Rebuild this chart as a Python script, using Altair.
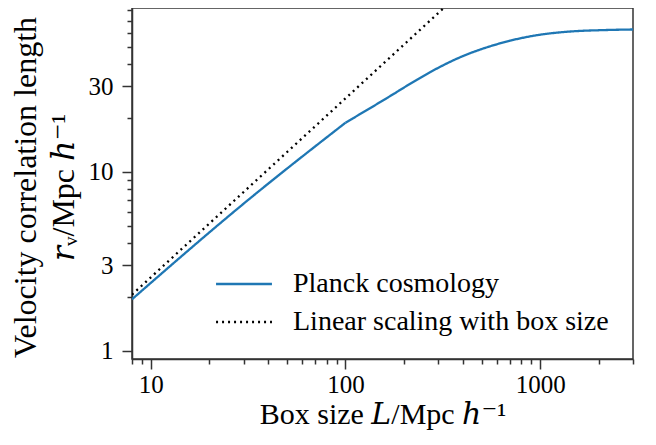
import altair as alt
import pandas as pd

# Planck cosmology curve; the slope changes at L = 100
planck_L = [8, 32, 100, 163, 233, 273, 405, 555, 700, 966, 1432, 2124, 3000]
planck_r = [1.94, 7.04, 18.8, 25.8, 32.7, 36.1, 44.5, 50.3, 54.0, 58.0, 60.8, 61.9, 62.4]
planck_seg = ["a", "a", "a", "b", "b", "b", "b", "b", "b", "b", "b", "b", "b"]

# Linear scaling with box size (end points)
linear_L = [8, 350]
linear_r = [2.06, 90]

series_names = ["Planck cosmology", "Linear scaling with box size"]
series_colors = ["#1f77b4", "#000000"]

x_major = [10, 100, 1000]
x_minor = [8, 9, 20, 30, 40, 50, 60, 70, 80, 90, 200, 300, 400, 500, 600, 700, 800, 900, 2000, 3000]
y_major = [1, 3, 10, 30]
y_minor = [2, 4, 5, 6, 7, 8, 9, 20, 40, 50, 60, 70, 80]

rows = []
for i, (L, r, s) in enumerate(zip(planck_L, planck_r, planck_seg)):
    rows.append({"L": L, "r": r, "series": series_names[0], "seg": "p" + s, "order": i})
    if i > 0 and planck_seg[i - 1] != s:
        # start the next segment where the previous one ended
        rows.insert(len(rows) - 1, {"L": planck_L[i - 1], "r": planck_r[i - 1],
                                    "series": series_names[0], "seg": "p" + s, "order": i - 1})
for i, (L, r) in enumerate(zip(linear_L, linear_r)):
    rows.append({"L": L, "r": r, "series": series_names[1], "seg": "lin", "order": i})
df = pd.DataFrame(rows)

FONT = "Liberation Serif"
TITLE_FONT = "Liberation Serif, DejaVu Serif, serif"
axis_col = "#333333"

def tick_size(major):
    return {"condition": {"test": "indexof(%s, datum.value) >= 0" % str(major), "value": 10}, "value": 5}

def label_expr(major):
    return "indexof(%s, datum.value) >= 0 ? format(datum.value, 'd') : ''" % str(major)

legend = alt.Legend(title=None, orient="none", legendX=98, legendY=262,
                    symbolType="M-5,0H5", symbolSize=125, symbolStrokeWidth=2.3,
                    labelFontSize=28, labelOffset=35, rowPadding=10, labelLimit=500,
                    labelFont=FONT, labelColor="#000")

chart = alt.Chart(df).mark_line(strokeWidth=2.3, clip=True, interpolate="monotone").encode(
    x=alt.X("L:Q",
            scale=alt.Scale(type="log", domain=[8, 3000], nice=False),
            axis=alt.Axis(values=sorted(x_major + x_minor), labelExpr=label_expr(x_major),
                          tickSize=tick_size(x_major), labelOverlap=False, labelPadding=3,
                          labelFont=FONT, labelFontSize=25,
                          title="Box size 𝐿/Mpc ℎ⁻¹", titleFontSize=30,
                          titleY=64, titleBaseline="alphabetic", grid=False)),
    y=alt.Y("r:Q",
            scale=alt.Scale(type="log", domain=[0.9, 82.25], nice=False),
            axis=alt.Axis(values=sorted(y_major + y_minor), labelExpr=label_expr(y_major),
                          tickSize=tick_size(y_major), labelOverlap=False, labelPadding=9,
                          labelFont=FONT, labelFontSize=25,
                          title=["Velocity correlation length", "𝑟ᵥ/Mpc ℎ⁻¹"], titlePadding=8,
                          titleY=179, grid=False)),
    color=alt.Color("series:N", scale=alt.Scale(domain=series_names, range=series_colors), legend=legend),
    strokeDash=alt.StrokeDash("series:N", scale=alt.Scale(domain=series_names, range=[[1, 0], [2, 4]]),
                              legend=legend),
    detail="seg:N",
    order="order:Q",
).properties(
    width=501, height=351,
    autosize=alt.AutoSizeParams(type="none"),
    padding={"left": 124, "top": 0, "right": 15, "bottom": 78},
).configure(
    font=FONT,
).configure_view(
    stroke=axis_col, strokeWidth=1.5,
).configure_axis(
    domainColor=axis_col, domainWidth=1.5, tickColor=axis_col, tickWidth=1.5,
    labelFont=FONT, labelFontSize=25, labelColor="#000",
    titleFont=TITLE_FONT, titleFontSize=32, titleFontWeight="normal", titleColor="#000",
).configure_axisY(
    titleLineHeight=38,
).configure_legend(
    labelFont=FONT,
)

chart.save("out.html", embed_options={"renderer": "svg", "actions": False})
